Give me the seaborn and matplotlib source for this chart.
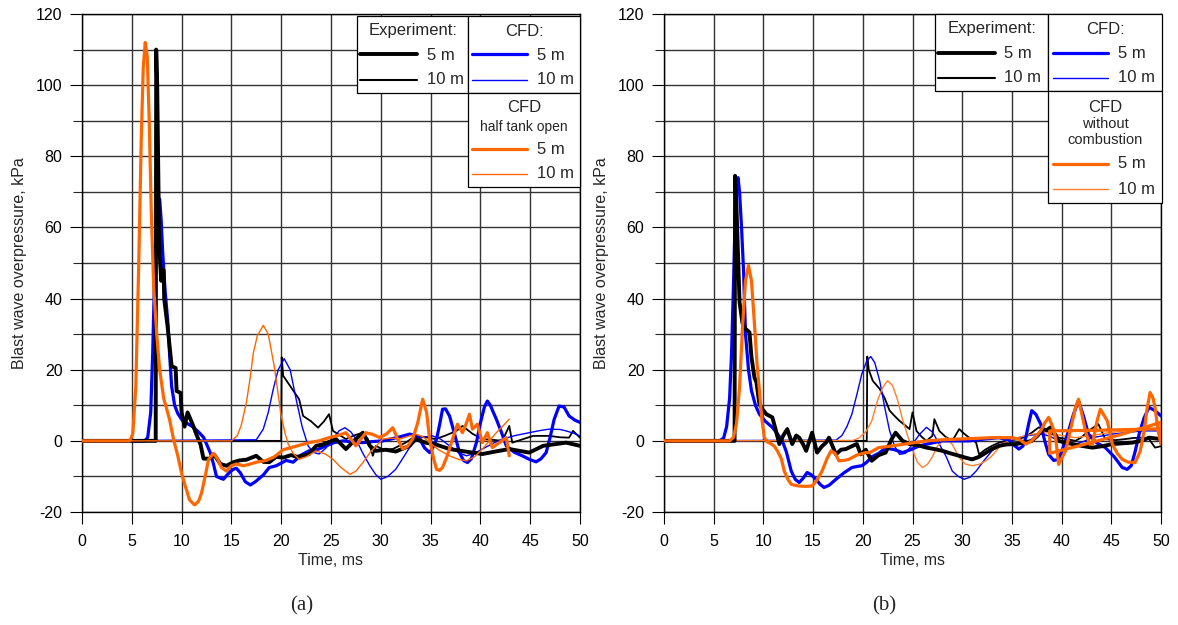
import matplotlib
matplotlib.use("Agg")
import matplotlib.pyplot as plt
from matplotlib.patches import Rectangle
from matplotlib.lines import Line2D
import seaborn as sns
import pandas as pd

# ---------------- DATA ----------------
# Panel (a)
A_EXP5_T = [0, 7.4, 7.45, 7.55, 7.75, 7.95, 8.0, 8.2, 8.25, 8.6, 9.0, 9.4, 9.5, 9.9, 10.0, 10.3, 10.6, 10.9, 11.2,
            11.5, 11.9, 12.2, 12.8, 13.3, 13.9, 14.5, 15.2, 15.8, 16.5, 17.5, 18.2, 18.8, 19.5, 20.2, 21.0, 21.6,
            22.8, 23.5, 24.2, 25.5, 26.5, 27.3, 28.2, 28.9, 29.5, 30.5, 31.5, 32.9, 33.5, 34.5, 35.5, 36.9, 38.5,
            40.2, 41.5, 42.9, 44.9, 46.3, 48.6, 50]
A_EXP5_P = [0, 0, 110, 100, 55, 45, 48, 48, 40, 32, 21, 20.5, 14, 13.5, 8, 4, 8, 6, 4,
            1.7, -1, -5, -5, -4, -6.5, -7, -6, -5.5, -5.3, -4.2, -5.9, -6, -4.5, -4.7, -4, -4.5,
            -3.7, -1.4, -1, 0.5, -2.3, 0, 2.3, -1.4, -2.8, -2.5, -3, -1.4, 0.5, -0.5, -1, -2.3, -3,
            -3.7, -3, -2.3, -3.3, -1.4, -0.5, -1.4]

A_EXP10_T = [0, 20.0, 20.05, 20.2, 21.0, 21.8, 22.2, 23.0, 23.7, 24.3, 24.8, 25.2, 26.5, 27.3, 28.2, 28.7, 29.2,
             29.5, 30.3, 31.2, 32.5, 33.5, 34.5, 35.5, 36.5, 37.6, 38.2, 39.2, 40.2, 41.2, 42.2, 42.9, 43.2, 44.3,
             45.3, 46.9, 48.0, 48.9, 49.3, 50]
A_EXP10_P = [0, 0, 23.5, 18.3, 15, 11.7, 7, 5.5, 3.7, 5.5, 7.5, 2.8, 0.5, 1.5, 2.3, 0.5, -4.2,
             -1.4, -2.5, -2.3, -0.5, 1.4, 1.0, 0.5, 1.5, 2.8, 4.2, 2, 0.5, 0.3, 0, 4.2, -0.5, 0.5,
             1.4, 1.4, 1.0, 0.9, 2.8, 0.9]

A_CFD5_T = [0, 6.3, 6.6, 6.9, 7.1, 7.3, 7.5, 7.65, 7.8, 7.95, 8.1, 8.35, 8.6, 8.8, 9.0, 9.3, 9.6, 10.0, 10.5, 11.1,
            11.7, 12.2, 12.6, 12.9, 13.2, 13.5, 13.9, 14.2, 14.6, 14.9, 15.2, 15.5, 15.9, 16.4, 16.9, 17.4, 18.2,
            18.8, 19.5, 20.5, 21.2, 22.0, 22.8, 23.6, 24.5, 25.3, 26.2, 27.2, 28.2, 29.2, 30.2, 31.0, 32.0, 32.9,
            33.5, 33.9, 34.4, 34.9, 35.3, 35.6, 35.9, 36.2, 36.5, 36.9, 37.4, 37.9, 38.3, 38.7, 39.1, 39.6, 40.0,
            40.4, 40.7, 41.0, 41.3, 41.6, 42.1, 42.6, 43.4, 44.2, 45.0, 45.6, 46.1, 46.6, 47.0, 47.4, 47.9, 48.4,
            48.9, 49.5, 50]
A_CFD5_P = [0, 0, 1, 8, 25, 48, 63, 68, 68, 62, 53, 42, 34, 24, 15.3, 10, 7.8, 6, 5, 4.0,
            2.5, 1.0, -1.5, -3.5, -6.5, -10, -10.5, -10.8, -9.5, -8.6, -8, -7.7, -9, -11.5, -12.4, -11.5, -9.6,
            -7.5, -7, -5.5, -6, -4, -2.8, -2.5, -1.4, -0.5, 0, -0.3, -0.5, -0.2, 0, 0.5, 1.2, 1.9,
            1.5, 0.5, -2, -3.3, -1.5, 0.5, 4.5, 8.9, 9, 7, 2, -3.3, -5.5, -6.1, -5, -0.5, 5,
            9.5, 11.2, 10, 8, 6.1, 2.5, -1.4, -3.2, -4.2, -5.3, -5.9, -5, -3.3, 1, 6, 9.8, 9.5,
            7, 5.8, 5.2]

A_CFD10_T = [0, 17.5, 18.2, 18.7, 19.2, 19.7, 20.3, 20.9, 21.5, 22.1, 22.7, 23.2, 23.8, 24.5, 25.2, 25.8, 26.4,
             27.0, 27.5, 28.2, 28.9, 29.5, 30.0, 30.7, 31.5, 32.3, 33.2, 34.2, 35.2, 36.0, 36.9, 37.8, 38.6, 39.4,
             40.2, 41.2, 42.2, 43.5, 44.9, 46.0, 46.9, 48.0, 48.6, 49.3, 50]
A_CFD10_P = [0, 0.3, 3.3, 8, 14.5, 20, 23.1, 20, 11.7, 4, -1.4, -3.2, -3.7, -2, 0.5, 2.8, 3.7,
             2.5, 0.5, -3.5, -7, -9.5, -10.8, -10, -8, -4.5, -0.5, 1, 1.4, 0.5, -1.4, -3.3, -4.2, -3.5,
             -2.3, -0.8, 0.5, 1.5, 2.3, 2.9, 3.3, 3.2, 2.8, 2.2, 1.4]

A_HT5_T = [0, 4.8, 5.1, 5.4, 5.7, 5.95, 6.15, 6.35, 6.55, 6.75, 6.95, 7.2, 7.5, 7.8, 8.2, 8.8, 9.2, 9.6, 10.0,
           10.4, 10.8, 11.3, 11.7, 12.0, 12.4, 12.7, 13.2, 13.6, 14.0, 14.5, 15.0, 15.5, 16.2, 16.8, 17.5, 18.5,
           19.3, 20.2, 21.5, 22.8, 23.8, 24.8, 25.7, 26.5, 27.0, 27.5, 28.0, 28.5, 29.2, 29.9, 30.6, 31.2, 31.7,
           32.2, 32.7, 33.2, 33.7, 34.2, 34.6, 34.9, 35.3, 35.6, 35.9, 36.2, 36.7, 37.2, 37.7, 38.2, 38.6, 38.9,
           39.2, 39.7, 40.2, 40.7, 41.2, 41.9, 42.6, 42.9]
A_HT5_P = [0, 0, 2, 15, 50, 85, 105, 112, 108, 90, 65, 43, 30, 20, 12, 5.9, 0.3, -4, -9.1,
           -13, -16.6, -18, -17, -14.7, -9.5, -5.3, -3.5, -5, -7.5, -8.5, -7, -6.5, -7, -6.6, -6, -5.5,
           -4.5, -2.5, -1.5, -0.5, 0, 0.9, 1.5, 2.3, 0.5, -1.4, 0.5, 2.3, 1.8, 0.9, 2, 3.7, 0.5,
           -2.3, -1.5, 0.5, 5, 11.7, 8, 0.5, -5, -8, -8.3, -7.5, -4, 0.5, 4.7, 2.3, 5, 7.5,
           3.3, 4.7, -0.5, 2.3, -1.9, -0.5, 0.9, -4.2]

A_HT10_T = [0, 15.0, 15.6, 16.0, 16.5, 16.9, 17.2, 17.6, 18.2, 18.7, 19.3, 19.7, 20.0, 20.4, 20.7, 21.2, 21.8,
            22.5, 23.5, 24.5, 25.2, 26.0, 26.9, 27.5, 28.2, 29.0, 30.2, 31.0, 31.9, 32.7, 33.5, 34.2, 34.9, 35.8,
            36.9, 37.8, 38.6, 39.4, 40.2, 40.9, 41.6, 42.3, 42.9]
A_HT10_P = [0, 0, 1.5, 4.5, 10.7, 18, 24.7, 29.5, 32.5, 30, 21, 13, 7, 2, -0.9, -3.5, -5.2,
            -4.5, -2.8, -3.8, -5.2, -7.5, -9.4, -8.5, -6.1, -3, 0.5, 0.8, 0.5, 1.2, 1.9, 1.2, -0.5, -2.5,
            -4.2, -5.2, -5.6, -4.5, -2.3, 0, 2.3, 4.3, 6.1]

# Panel (b)
B_EXP5_T = [0, 7.1, 7.15, 7.3, 7.6, 7.9, 8.2, 8.6, 8.8, 9.1, 9.3, 9.6, 9.9, 10.3, 10.9, 11.2, 11.6, 12.0, 12.4,
            12.9, 13.3, 13.6, 14.0, 14.3, 14.9, 15.4, 15.9, 16.3, 16.6, 17.3, 17.8, 18.3, 18.9, 19.4, 19.8, 20.3,
            20.9, 21.6, 22.3, 22.9, 23.3, 24.0, 24.7, 25.5, 26.4, 27.2, 28.0, 28.8, 29.7, 30.3, 31.0, 31.7, 32.4,
            33.0, 33.7, 34.5, 35.4, 36.2, 37.0, 37.6, 38.1, 38.5, 38.9, 39.3, 39.7, 40.4, 41.1, 42.0, 43.1, 44.1,
            45.1, 46.1, 47.1, 48.0, 48.8, 49.4, 50]
B_EXP5_P = [0, 0, 74.5, 65, 39, 33, 31.5, 30.5, 23.5, 17.8, 16.5, 10.3, 8.9, 7.5, 6.6, 3.5, -0.9, 1.5, 3.3,
            -0.9, 1.5, 0.9, -1, -2.8, 2.3, -3.3, -1.5, -0.5, 0.9, -3.8, -2.5, -2.3, -1.5, -0.9, -3.8, -2.5,
            -5.6, -4, -3.3, 0.5, 2.3, 0, -0.9, -1.2, -1.9, -2.3, -2.8, -3.5, -4.2, -4.7, -5.2, -4.5, -3.3,
            -2.3, -1.4, -1.0, -0.9, -0.5, 0, 1.5, 3.3, 3.0, 3.8, 2.0, 0, -0.5, -0.9, -1.4, -1.9, -1.5,
            -0.9, -0.7, -0.5, 0, 0.9, 0.7, 0.5]

B_EXP10_T = [0, 20.4, 20.45, 20.6, 21.0, 21.7, 22.2, 22.7, 23.2, 23.7, 24.2, 24.7, 25.0, 25.4, 25.9, 26.4, 27.0,
             27.2, 27.7, 28.3, 29.0, 29.7, 30.2, 30.7, 31.4, 31.7, 32.3, 33.0, 33.7, 34.4, 35.7, 36.4, 37.0, 37.7,
             38.4, 39.0, 39.7, 40.5, 41.4, 42.0, 42.7, 43.7, 44.4, 45.4, 46.4, 47.2, 48.1, 48.8, 49.4, 50]
B_EXP10_P = [0, 0, 23.7, 20, 16.9, 14.6, 12, 8.5, 7, 5.6, 4.5, 3.3, 8, 2.8, 1.2, 0, 1.4,
             6.1, 2.8, 1.2, 0, 3.3, 2, 0.9, -0.5, -3.8, -2.5, -1.4, -0.5, 0, 0.5, 1.2, 2.3, 3.8,
             3.0, 2.0, 0.9, 0.5, 0, 1.0, 2.8, 4.7, 0.5, 0.2, 0.5, 0.8, 0.9, 0.5, -1.9, -1.5]

B_CFD5_T = [0, 5.6, 6.0, 6.3, 6.6, 6.8, 7.0, 7.15, 7.3, 7.45, 7.6, 7.8, 8.0, 8.2, 8.5, 8.8, 9.2, 9.6, 10.2, 10.9,
            11.4, 11.9, 12.3, 12.8, 13.2, 13.6, 14.0, 14.4, 14.8, 15.3, 15.7, 16.1, 16.6, 17.3, 18.1, 18.9, 19.4,
            19.9, 20.4, 20.9, 21.6, 22.3, 23.2, 24.0, 24.8, 25.7, 26.8, 28.0, 29.3, 30.7, 32.2, 33.7, 34.2, 34.7,
            35.2, 35.7, 36.1, 36.4, 36.7, 37.0, 37.4, 37.9, 38.3, 38.7, 39.2, 39.7, 40.2, 40.7, 41.2, 41.7, 42.2,
            42.7, 43.5, 44.4, 45.3, 46.1, 46.6, 47.0, 47.4, 47.8, 48.3, 48.8, 49.4, 50]
B_CFD5_P = [0, 0, 0.8, 4, 12, 25, 45, 62, 72, 74, 70, 60, 48, 30, 20, 14.1, 10, 7.5, 5.5, 3.8,
            2, 0, -3, -8.5, -10.8, -11.7, -10.5, -8.9, -9.5, -10.8, -12.2, -13.1, -12.5, -10.8, -9, -7.5, -7.2,
            -7, -6, -4.5, -3.5, -2, -2.5, -3.3, -2.5, -1.4, -0.7, 0, 0, 0, 0.5, 0.9, 0.5, 0.3,
            -1.2, -2.3, -1.5, 0.9, 5, 8.5, 7.5, 4.7, 0, -3.8, -5.5, -5.2, -1.5, 2.8, 7.5, 11.3, 7,
            1.9, -0.5, -1.9, -4.5, -7.5, -8, -7, -3, 1.9, 6.5, 9.4, 8.5, 7]

B_CFD10_T = [0, 17.3, 17.9, 18.4, 18.9, 19.4, 19.9, 20.4, 20.8, 21.2, 21.7, 22.2, 22.7, 23.2, 23.7, 24.3, 25.0,
             25.7, 26.4, 27.0, 27.7, 28.4, 29.0, 29.6, 30.2, 30.8, 31.4, 32.2, 33.0, 33.8, 34.7, 35.5, 36.4, 37.2,
             38.1, 38.9, 39.7, 40.5, 41.4, 42.2, 43.1, 44.1, 45.1, 46.4, 48.1, 50]
B_CFD10_P = [0, 0.2, 1.5, 4, 7.5, 13, 18.8, 22.5, 23.7, 22, 16.9, 9.5, 2.8, -1.5, -3.8, -3.5, -0.9,
             1.8, 3.8, 2.5, -0.9, -4.5, -8.5, -10, -10.8, -10.2, -8.5, -5.5, -2.8, -1.2, 0, 0.8, 1.4, 1.7,
             1.9, 1.2, 0, -0.6, -0.9, -0.2, 0.9, 1.4, 1.9, 2.3, 2.8, 2.8]

B_NC5_T = [0, 6.6, 7.0, 7.3, 7.6, 7.9, 8.2, 8.5, 8.8, 9.1, 9.35, 9.6, 9.85, 10.1, 10.4, 10.8, 11.1, 11.4, 11.8,
           12.1, 12.5, 12.8, 13.2, 13.6, 14.2, 14.9, 15.4, 15.9, 16.4, 16.8, 17.2, 17.6, 18.1, 18.6, 19.4, 20.3,
           20.7, 21.6, 23.0, 24.7, 26.4, 28.0, 29.7, 31.4, 33.0, 34.3, 35.0, 35.7, 36.4, 37.0, 37.5, 37.9, 38.3,
           38.7, 39.1, 39.4, 39.7, 40.0, 40.4, 40.8, 41.1, 41.4, 41.7, 42.0, 42.4, 42.8, 43.1, 43.6, 43.9, 44.2,
           44.6, 45.1, 45.6, 46.1, 46.7, 47.4, 47.9, 48.3, 48.6, 48.9, 49.2, 49.4, 49.7, 50,
           50, 46.0, 42.0, 38.8, 38.8, 44.0, 50]
B_NC5_P = [0, 0, 1, 5, 15, 32, 45, 49.3, 45, 32.9, 22, 14.1, 6, 0.9, -0.3, -0.9, -1.5, -2.8, -5,
           -8.5, -11, -12.2, -12.5, -12.7, -12.8, -12.7, -11, -8.5, -5, -2.8, -3.5, -5.6, -5.5, -5.2, -4, -3.3,
           -3.3, -1.9, -1.4, -0.7, 0, 0.3, 0.5, 0.7, 0.9, 0.9, 0.9, 0.5, -0.9, 0, 1.5, 2.8, 5,
           6.6, 4, 0.9, -6.6, -5, -2.8, 2, 5.6, 9.5, 11.7, 8, 2.8, -0.9, -0.9, 6, 8.9, 7.5,
           5.6, -0.9, -3.5, -5.2, -6, -6.1, -3, 2.8, 9, 13.6, 12, 9.4, 3, -0.9,
           5.2, 1.8, -1.2, -3.5, 2.8, 3.0, 3.4]

B_NC10_T = [0, 19.0, 19.6, 20.3, 20.9, 21.5, 22.0, 22.5, 23.0, 23.5, 24.0, 24.5, 25.0, 25.5, 26.0, 26.5, 27.0,
            27.5, 28.4, 29.0, 29.7, 30.3, 31.0, 31.7, 32.4, 33.0, 33.7, 34.3, 35.0, 36.0, 37.1, 38.7, 40.0, 41.4,
            43.0, 44.7, 46.5, 48.1, 50]
B_NC10_P = [0, 0.1, 0.8, 2.5, 5.6, 11.5, 15, 16.9, 15.5, 11.5, 6, 1.5, -2.5, -6, -7.5, -6.6, -4.5,
            -1.5, 0.9, -1, -4.7, -6.5, -7, -6.6, -5.6, -4.2, -1.9, -0.5, 0.5, 1.2, 1.9, 2.3, 1.5, 0.9,
            1.5, 2.3, 2.8, 3.3, 5.2]

TICK_X = list(range(0, 51, 5))
TICK_Y = list(range(-20, 121, 20))
MINOR_Y = list(range(-10, 121, 20))

BLACK = "#000000"
BLUE = "#0000FF"
ORANGE = "#FF6600"
ORANGE_LT = "#FF7F2A"

# ---------------- STYLE ----------------
sns.set_style("white")
plt.rcParams["font.family"] = ["Liberation Sans", "DejaVu Sans"]

W, H = 1178, 625
fig = plt.figure(figsize=(W / 100, H / 100), dpi=100)

BOX_A = (82, 580, 14, 512)
BOX_B = (664, 1161, 14, 512)


def make_ax(box):
    L, R, T, B = box
    return fig.add_axes([L / W, (H - B) / H, (R - L) / W, (B - T) / H])


def axc(box, px, py):
    L, R, T, B = box
    return (px - L) / (R - L), (B - py) / (B - T)


def draw(ax, t, p, color, lw, z):
    df = pd.DataFrame({"t": t, "p": p})
    sns.lineplot(data=df, x="t", y="p", ax=ax, color=color, linewidth=lw,
                 sort=False, estimator=None, legend=False, zorder=z)


def style_ax(ax, box):
    ax.set_xlim(0, 50)
    ax.set_ylim(-20, 120)
    ax.set_xticks(TICK_X)
    ax.set_yticks(TICK_Y)
    ax.set_yticks(MINOR_Y, minor=True)
    ax.set_xticklabels([str(v) for v in TICK_X])
    ax.set_yticklabels([str(v) for v in TICK_Y])
    ax.grid(which="both", color="#333333", linewidth=1.0)
    ax.set_axisbelow(True)
    ax.tick_params(axis="y", which="major", direction="out", length=8.6, width=0.8,
                   pad=5.5, labelsize=11.5, colors="black", left=True)
    ax.tick_params(axis="y", which="minor", direction="out", length=6.5, width=0.8, left=True)
    ax.tick_params(axis="x", which="major", direction="out", length=8.6, width=0.8,
                   pad=7, labelsize=11.5, colors="black", bottom=True)
    for s in ax.spines.values():
        s.set_color("black")
        s.set_linewidth(1.0)
    ax.set_xlabel("Time, ms", fontsize=11.5)
    ax.set_ylabel("Blast wave overpressure, kPa", fontsize=11.5)
    L, R, T, B = box
    ax.xaxis.set_label_coords(0.5, (B - 553) / (B - T))
    ax.yaxis.set_label_coords((27 - 82) / (R - L), 0.5)


def legend(ax, box, spec):
    for (x0, y0, x1, y1) in spec["boxes"]:
        ax0, ay0 = axc(box, x0, y1)
        ax1, ay1 = axc(box, x1, y0)
        ax.add_patch(Rectangle((ax0, ay0), ax1 - ax0, ay1 - ay0, transform=ax.transAxes,
                               facecolor="white", edgecolor="black", linewidth=0.9,
                               zorder=20, clip_on=False))
    for (px, py, s, fs, ha) in spec["texts"]:
        x, y = axc(box, px, py)
        ax.text(x, y, s, transform=ax.transAxes, fontsize=fs, ha=ha, va="center",
                zorder=21, clip_on=False)
    for (x0, x1, py, color, lw) in spec["lines"]:
        a0, yy = axc(box, x0, py)
        a1, _ = axc(box, x1, py)
        ax.add_line(Line2D([a0, a1], [yy, yy], transform=ax.transAxes, color=color,
                           linewidth=lw, zorder=21, clip_on=False))


THICK = 2.8
THICK_B = 2.3
THIN = 1.0
THIN_K = 1.3

# ---------------- PANEL A ----------------
axA = make_ax(BOX_A)
draw(axA, A_EXP10_T, A_EXP10_P, BLACK, THIN_K, 3)
draw(axA, A_CFD10_T, A_CFD10_P, BLUE, THIN, 3.2)
draw(axA, A_CFD5_T, A_CFD5_P, BLUE, THICK_B, 4)
draw(axA, A_EXP5_T, A_EXP5_P, BLACK, THICK, 5)
draw(axA, A_HT10_T, A_HT10_P, ORANGE, THIN, 5.5)
draw(axA, A_HT5_T, A_HT5_P, ORANGE, THICK_B, 6)
style_ax(axA, BOX_A)

legend(axA, BOX_A, {
    "boxes": [(357, 16, 468, 93), (468, 16, 580, 93), (468, 93, 580, 187)],
    "texts": [(413, 31, "Experiment:", 12, "center"), (524, 31, "CFD:", 12, "center"),
              (427, 55, "5 m", 12, "left"), (427, 80, "10 m", 12, "left"),
              (537, 55, "5 m", 12, "left"), (537, 80, "10 m", 12, "left"),
              (524, 107, "CFD", 12, "center"), (524, 127, "half tank open", 10, "center"),
              (537, 149, "5 m", 12, "left"), (537, 174, "10 m", 12, "left")],
    "lines": [(360, 417, 54, BLACK, THICK), (360, 417, 80, BLACK, 1.5),
              (472, 527, 54, BLUE, THICK_B), (472, 527, 80, BLUE, THIN),
              (472, 527, 149, ORANGE, THICK_B), (472, 527, 174, ORANGE, THIN)],
})

# ---------------- PANEL B ----------------
axB = make_ax(BOX_B)
draw(axB, B_EXP10_T, B_EXP10_P, BLACK, THIN_K, 3)
draw(axB, B_CFD10_T, B_CFD10_P, BLUE, THIN, 3.2)
draw(axB, B_NC10_T, B_NC10_P, ORANGE_LT, THIN, 3.4)
draw(axB, B_CFD5_T, B_CFD5_P, BLUE, THICK_B, 4)
draw(axB, B_EXP5_T, B_EXP5_P, BLACK, THICK, 5)
draw(axB, B_NC5_T, B_NC5_P, ORANGE, THICK_B, 6)
style_ax(axB, BOX_B)
axB.yaxis.set_label_coords((609 - 664) / (1161 - 664), 0.5)

legend(axB, BOX_B, {
    "boxes": [(935, 14, 1048, 91), (1048, 14, 1162, 91), (1048, 91, 1162, 203)],
    "texts": [(992, 29, "Experiment:", 12, "center"), (1105, 29, "CFD:", 12, "center"),
              (1004, 53, "5 m", 12, "left"), (1004, 78, "10 m", 12, "left"),
              (1118, 53, "5 m", 12, "left"), (1118, 78, "10 m", 12, "left"),
              (1105, 107, "CFD", 12, "center"), (1105, 124, "without", 10.5, "center"),
              (1105, 140, "combustion", 10.5, "center"),
              (1118, 164, "5 m", 12, "left"), (1118, 189, "10 m", 12, "left")],
    "lines": [(938, 995, 53, BLACK, THICK), (938, 995, 78, BLACK, 1.5),
              (1053, 1108, 53, BLUE, THICK_B), (1053, 1108, 78, BLUE, THIN),
              (1053, 1108, 164, ORANGE, THICK_B), (1053, 1108, 189, ORANGE_LT, THIN)],
})

# panel captions
fig.text(302 / W, 1 - 606 / H, "(a)", fontsize=15, ha="center", va="center",
         family=["Liberation Serif", "DejaVu Serif"])
fig.text(884 / W, 1 - 606 / H, "(b)", fontsize=15, ha="center", va="center",
         family=["Liberation Serif", "DejaVu Serif"])

fig.savefig("out.png", dpi=100, facecolor="white")
